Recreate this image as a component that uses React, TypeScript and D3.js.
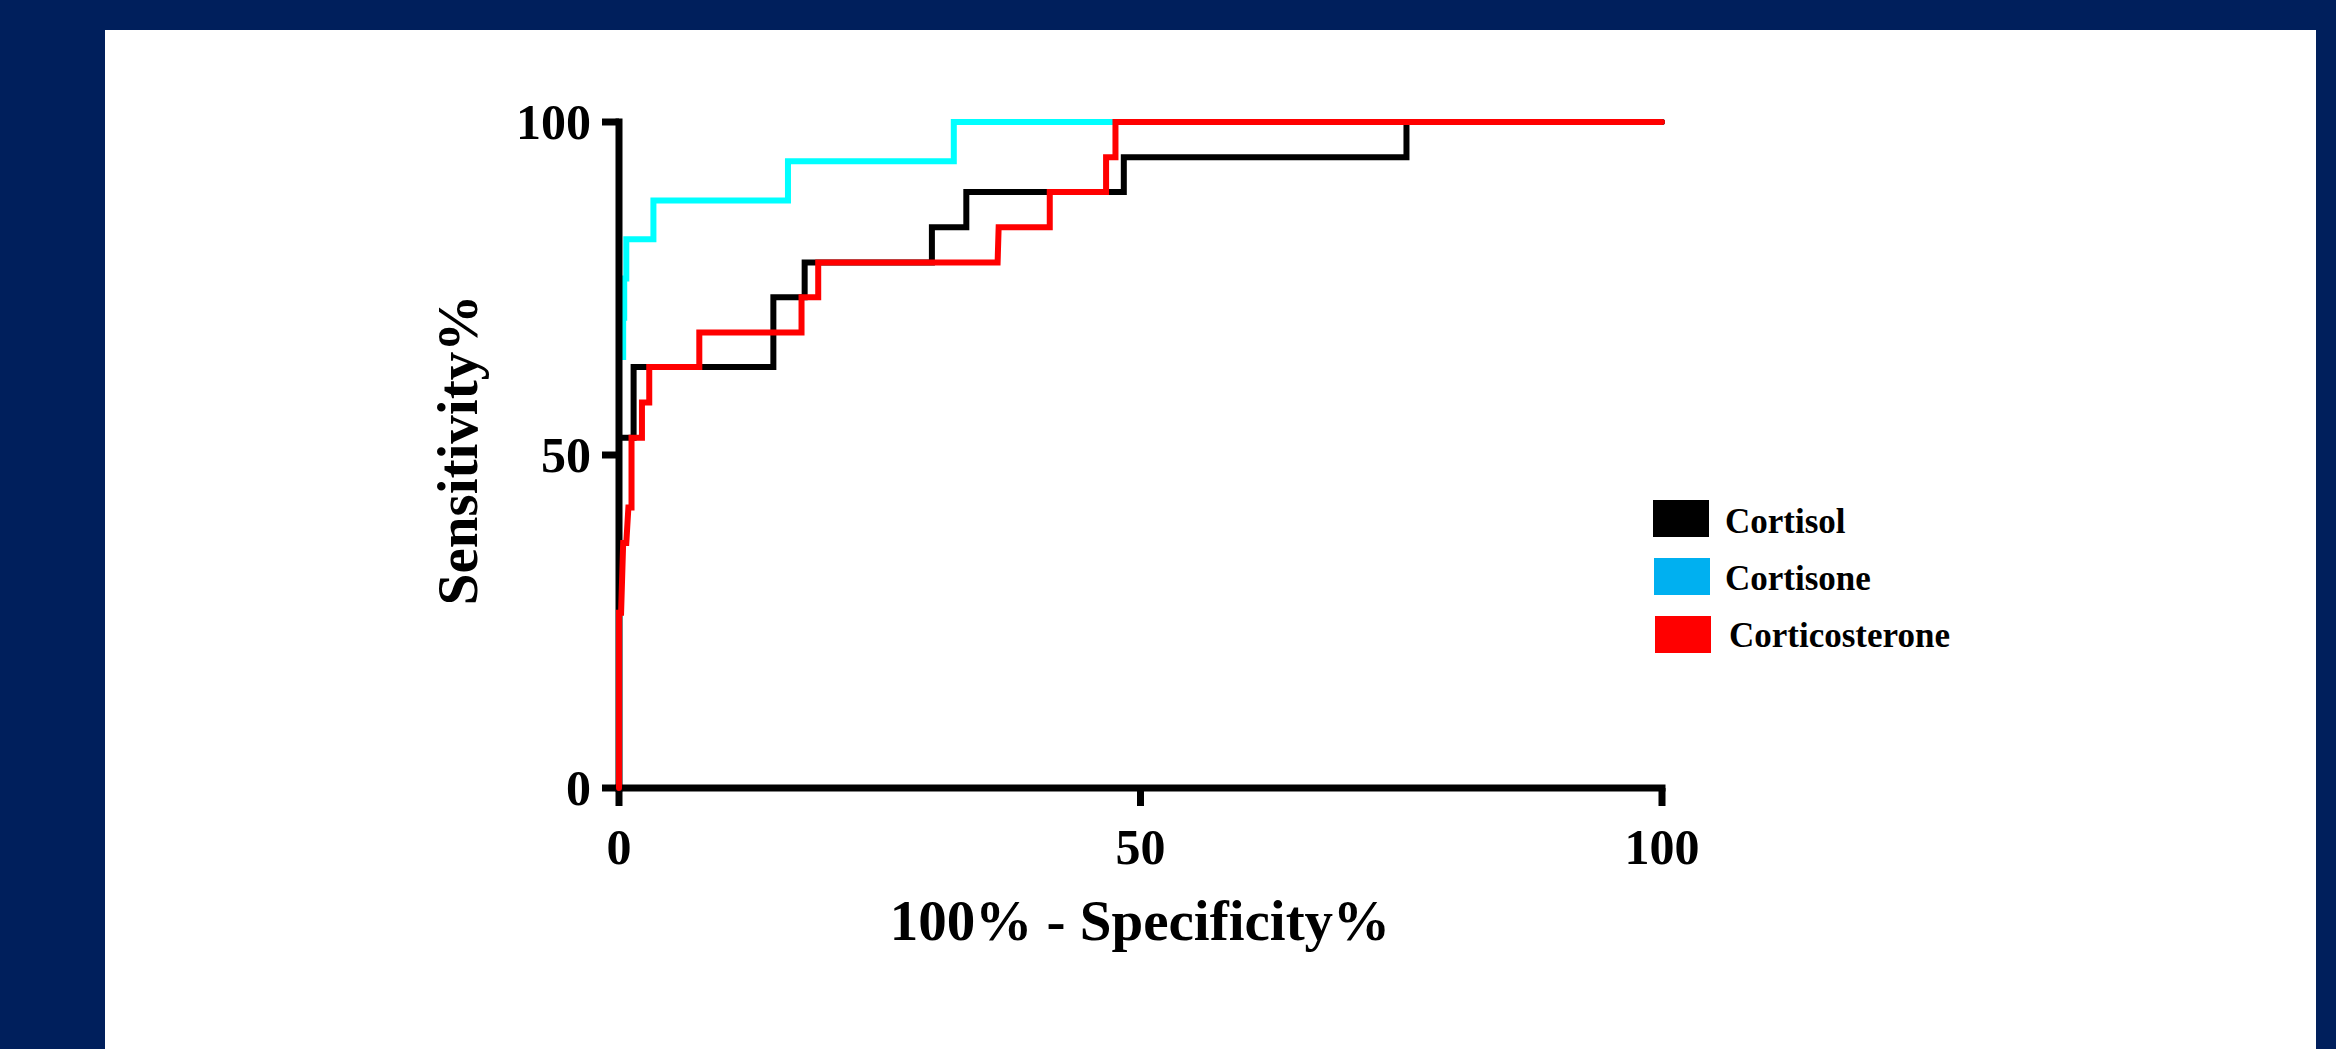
import * as d3 from "d3";

const W = 2336;
const H = 1049;

// ROC points (100% - specificity, sensitivity)
const cortisolX = [0, 0, 1.4, 1.4, 14.8, 14.8, 17.8, 17.8, 30.0, 30.0, 33.3, 33.3, 48.4, 48.4, 75.5, 75.5, 100];
const cortisolY = [0, 52.6, 52.6, 63.2, 63.2, 73.7, 73.7, 78.9, 78.9, 84.2, 84.2, 89.5, 89.5, 94.7, 94.7, 100, 100];

const cortisoneX = [0, 0, 0.4, 0.4, 0.5, 0.5, 0.7, 0.7, 3.3, 3.3, 16.2, 16.2, 32.1, 32.1, 100];
const cortisoneY = [0, 64.7, 64.7, 70.6, 70.6, 76.5, 76.5, 82.4, 82.4, 88.2, 88.2, 94.1, 94.1, 100, 100];

const corticosteroneX = [0, 0, 0.2, 0.4, 0.7, 0.9, 1.2, 1.2, 2.2, 2.2, 2.9, 2.9, 7.7, 7.7, 17.5, 17.5, 19.1, 19.1, 36.3, 36.4, 41.3, 41.3, 46.7, 46.7, 47.6, 47.6, 100];
const corticosteroneY = [0, 26.3, 26.3, 36.8, 36.8, 42.1, 42.1, 52.6, 52.6, 57.9, 57.9, 63.2, 63.2, 68.4, 68.4, 73.7, 73.7, 78.9, 78.9, 84.2, 84.2, 89.5, 89.5, 94.7, 94.7, 100, 100];

const seriesNames = ["Cortisol", "Cortisone", "Corticosterone"];
const lineColors = ["#000000", "#00ffff", "#ff0000"];
const swatchColors = ["#000000", "#00b0f0", "#ff0000"];

const xTicks = [0, 50, 100];
const yTicks = [0, 50, 100];

const font = "'Liberation Serif', 'Times New Roman', serif";

export default function App() {
  const x = d3.scaleLinear().domain([0, 100]).range([619, 1662]);
  const y = d3.scaleLinear().domain([0, 100]).range([788, 122]);

  const line = d3
    .line<[number, number]>()
    .x((d) => x(d[0]))
    .y((d) => y(d[1]));

  const curve = (xs: number[], ys: number[], color: string) => (
    <path
      d={line(xs.map((v, k) => [v, ys[k]] as [number, number])) || ""}
      fill="none"
      stroke={color}
      strokeWidth={6}
      strokeLinejoin="miter"
      strokeLinecap="round"
    />
  );

  return (
    <div style={{ position: "fixed", left: 0, top: 0 }}>
      <svg width={W} height={H} style={{ display: "block" }}>
        <rect x={0} y={0} width={W} height={H} fill="#001f5c" />
        <rect x={105} y={30} width={2316 - 105} height={H - 30} fill="#ffffff" />

        {curve(cortisoneX, cortisoneY, lineColors[1])}

        {/* axes */}
        <line x1={x(0)} x2={x(0)} y1={y(100)} y2={y(0)} stroke="#000" strokeWidth={7} strokeLinecap="square" />
        <line x1={x(0)} x2={x(100)} y1={y(0)} y2={y(0)} stroke="#000" strokeWidth={7} strokeLinecap="square" />
        {yTicks.map((t) => (
          <g key={"y" + t}>
            <line x1={x(0) - 17} x2={x(0)} y1={y(t)} y2={y(t)} stroke="#000" strokeWidth={7} />
            <text
              x={x(0) - 28}
              y={y(t)}
              textAnchor="end"
              dominantBaseline="central"
              fontFamily={font}
              fontWeight="bold"
              fontSize={50}
            >
              {t}
            </text>
          </g>
        ))}
        {xTicks.map((t) => (
          <g key={"x" + t}>
            <line x1={x(t)} x2={x(t)} y1={y(0)} y2={y(0) + 18} stroke="#000" strokeWidth={7} />
            <text
              x={x(t)}
              y={864}
              textAnchor="middle"
              fontFamily={font}
              fontWeight="bold"
              fontSize={50}
            >
              {t}
            </text>
          </g>
        ))}

        {curve(cortisolX, cortisolY, lineColors[0])}
        {curve(corticosteroneX, corticosteroneY, lineColors[2])}

        {/* axis titles */}
        <text x={1140} y={940} textAnchor="middle" fontFamily={font} fontWeight="bold" fontSize={57}>
          100% - Specificity%
        </text>
        <text
          transform="translate(477,450) rotate(-90)"
          textAnchor="middle"
          fontFamily={font}
          fontWeight="bold"
          fontSize={57}
        >
          Sensitivity%
        </text>

        {/* legend */}
        {seriesNames.map((name, i) => (
          <g key={name}>
            <rect x={1653 + i} y={500 + i * 58} width={56} height={37} fill={swatchColors[i]} />
            <text
              x={i === 2 ? 1729 : 1725}
              y={533 + i * 57}
              fontFamily={font}
              fontWeight="bold"
              fontSize={35}
            >
              {name}
            </text>
          </g>
        ))}
      </svg>
    </div>
  );
}
